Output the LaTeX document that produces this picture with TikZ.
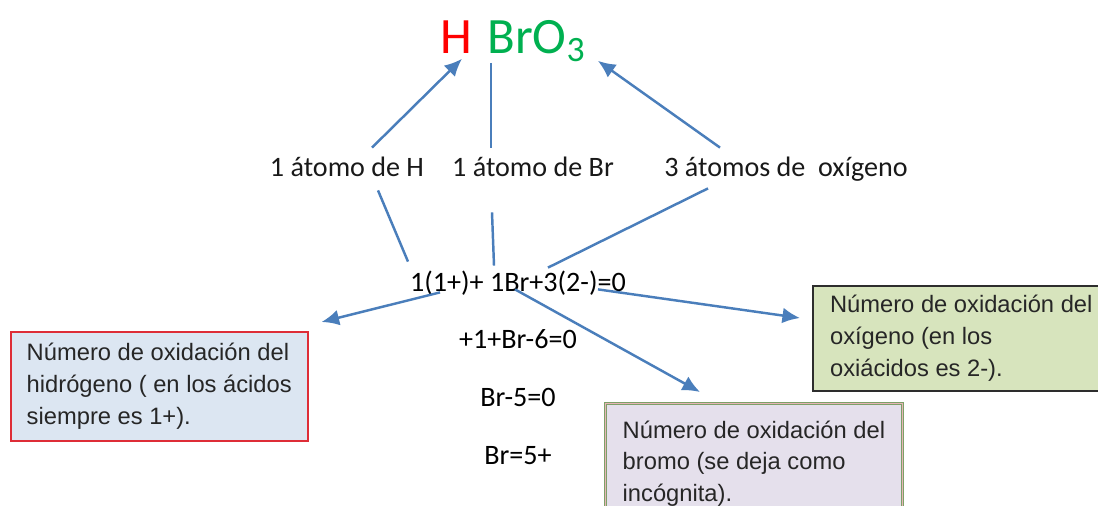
\documentclass[tikz,border=0pt]{standalone}
\usepackage{fontspec}
\setmainfont{Carlito}
\newfontfamily\boxfont{Liberation Sans}
\usetikzlibrary{arrows.meta,positioning}
\definecolor{arrowblue}{RGB}{74,126,187}
\definecolor{hred}{RGB}{255,0,0}
\definecolor{brgreen}{RGB}{0,176,80}
\definecolor{hydrofill}{RGB}{220,230,242}
\definecolor{hydroedge}{RGB}{222,45,55}
\definecolor{oxyfill}{RGB}{215,228,189}
\definecolor{oxyedge}{RGB}{45,45,45}
\definecolor{bromofill}{RGB}{229,224,236}
\definecolor{bromoedge}{RGB}{125,160,105}
\definecolor{bromoinner}{RGB}{232,180,182}
\tikzset{
	formula/.style={
		inner sep=0pt, text height=18.7pt, text depth=0pt,
		font=\fontsize{29}{34}\selectfont
	},
	atoms/.style={
		inner sep=0pt, text height=10.3pt, text depth=0pt,
		font=\fontsize{16}{19}\selectfont, text=black!90
	},
	equation/.style={atoms, text=black},
	note/.style={
		anchor=north west, minimum width=5.94cm, align=left,
		inner sep=0pt, line width=0.9pt, text=black!85,
		font=\boxfont\fontsize{13.5}{18}\selectfont
	},
	link/.style={draw=arrowblue, line width=1.4pt},
	pointer/.style={link, -{Latex[length=10pt,width=9pt]}}
}
\begin{document}
\begin{tikzpicture}[x=0.02cm, y=-0.02cm, node distance=0.78cm]
	\clip (0,0) rectangle (1098,506);
	\node[formula, text=hred] (H) at (456,37) {H};
	\node[formula, text=brgreen, anchor=west] (BrO) at (487,37) {BrO\textsubscript{3}};
	\node[atoms] (hAtom) at (347,167) {1 átomo de H};
	\node[atoms] (brAtom) at (533,167) {1 átomo de Br};
	\node[atoms] (oAtom) at (786,167) {3 átomos de\ \ oxígeno};
	\node[equation] (eqSum) at (518,282) {1(1+)+ 1Br+3(2-)=0};
	\node[equation] (eqTwo) [below=of eqSum] {+1+Br-6=0};
	\node[equation] (eqThree) [below=of eqTwo] {Br-5=0};
	\node[equation] (eqFour) [below=of eqThree] {Br=5+};
	\node[note, draw=hydroedge, fill=hydrofill, minimum height=2.18cm] (hydroBox) at (10,331)
		{Número de oxidación del\\hidrógeno ( en los ácidos\\siempre es 1+).};
	\node[note, draw=oxyedge, fill=oxyfill, minimum height=2.1cm] (oxyBox) at (812,285)
		{Número de oxidación del\\oxígeno (en los\\oxiácidos es 2-).};
	\node[note, draw=bromoedge, line width=0.5pt, double=bromoinner, double distance=0.8pt,
		fill=bromofill, minimum height=2.4cm] (bromoBox) at (605,403)
		{Número de oxidación del\\bromo (se deja como\\incógnita).};
	\draw[pointer] ([shift={(25,-10)}]hAtom.north) -- ([shift={(6,5)}]H.south);
	\draw[link] ([shift={(4,9)}]BrO.south west) -- ([shift={(-42,-10)}]brAtom.north);
	\draw[pointer] ([shift={(-66,-10)}]oAtom.north) -- ([shift={(12,7)}]BrO.south east);
	\draw[link] ([shift={(31,14)}]hAtom.south) -- ([shift={(-110,-11)}]eqSum.north);
	\draw[link] ([shift={(-41,36)}]brAtom.south) -- ([shift={(-24,-7)}]eqSum.north);
	\draw[link] ([shift={(-78,12)}]oAtom.south) -- ([shift={(30,-5)}]eqSum.north);
	\draw[pointer] ([shift={(-78,1)}]eqSum.south) -- ([shift={(13,-9)}]hydroBox.north east);
	\draw[pointer] ([shift={(80,-2)}]eqSum.south) -- ([shift={(-12,33)}]oxyBox.north west);
	\draw[pointer] ([shift={(-3,-2)}]eqSum.south) -- ([shift={(95,-11)}]bromoBox.north west);
\end{tikzpicture}
\end{document}
